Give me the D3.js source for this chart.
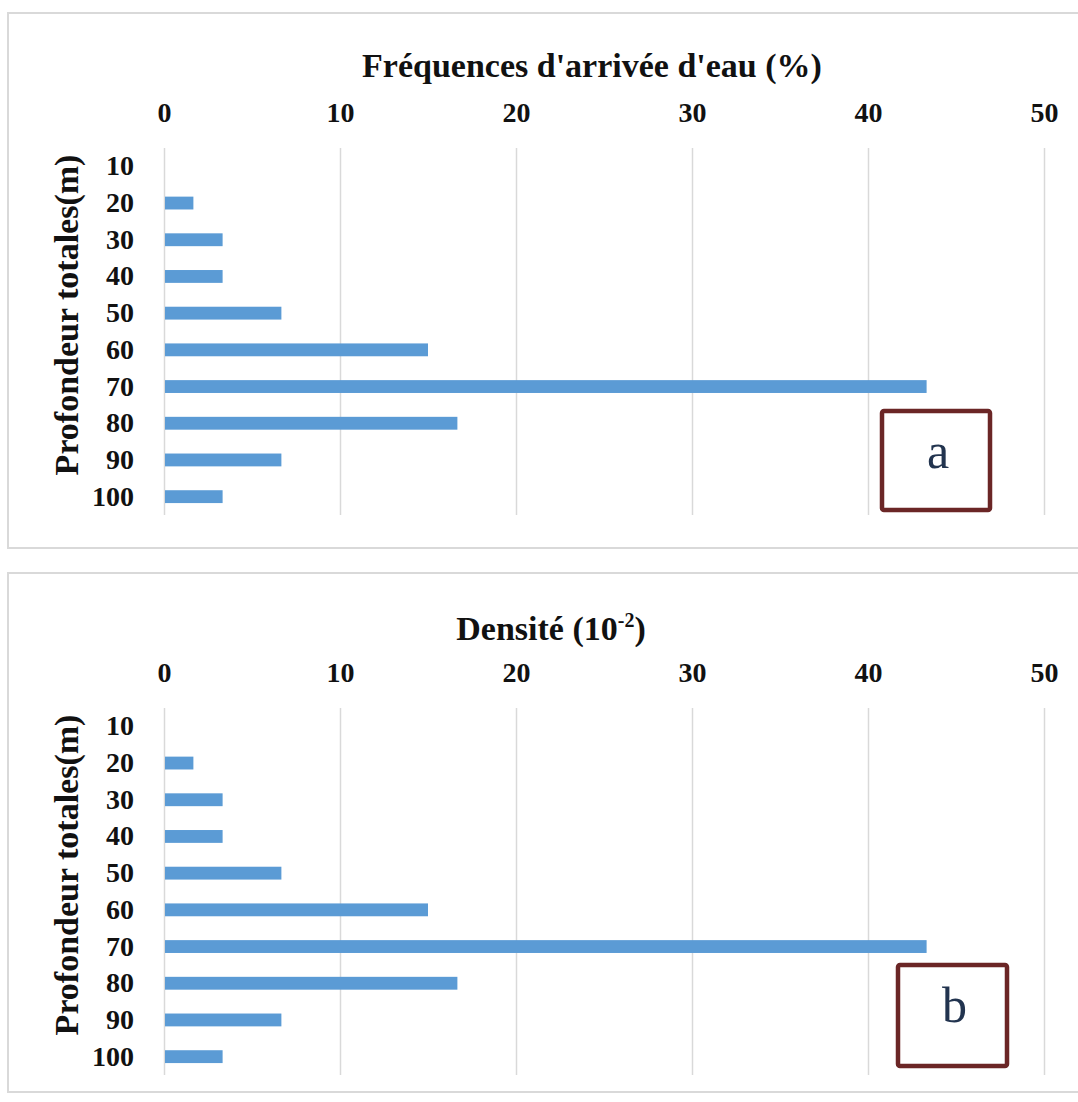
<!DOCTYPE html>
<html>
<head>
<meta charset="utf-8">
<script src="https://cdn.jsdelivr.net/npm/d3@7"></script>
<style>
  html, body { margin: 0; padding: 0; background: #ffffff; }
  svg { display: block; }
  text { font-family: "Liberation Serif", "Times New Roman", serif; }
</style>
</head>
<body>
<svg id="chart" width="1078" height="1102"></svg>
<script>
// Depth classes (m) and the share of water inflows in each class
const depths = ["10", "20", "30", "40", "50", "60", "70", "80", "90", "100"];
const frequencyValues = [0, 1.67, 3.33, 3.33, 6.67, 15, 43.33, 16.67, 6.67, 3.33];
const densityValues = [0, 1.67, 3.33, 3.33, 6.67, 15, 43.33, 16.67, 6.67, 3.33];
const xTickValues = [0, 10, 20, 30, 40, 50];
const yAxisTitle = "Profondeur totales(m)";

const svg = d3.select("#chart");

const barColor = "#5b9bd5";
const gridColor = "#d9d9d9";
const boxColor = "#6b2626";
const letterColor = "#22344f";

const x = d3.scaleLinear().domain([0, 50]).range([164, 1044]);
const plotHeight = 367;

function drawPanel(cfg) {
  const g = svg.append("g");

  // panel frame
  g.append("rect")
    .attr("x", 8).attr("y", cfg.frameTop)
    .attr("width", 1090).attr("height", cfg.frameHeight)
    .attr("fill", "#ffffff")
    .attr("stroke", gridColor).attr("stroke-width", 2);

  const top = cfg.plotTop;
  const y = d3.scaleBand()
    .domain(depths)
    .range([top, top + plotHeight])
    .paddingInner(0.65)
    .paddingOuter(0.325);

  // value axis on top, with vertical gridlines
  const xAxis = d3.axisTop(x)
    .tickValues(xTickValues)
    .tickSize(-plotHeight)
    .tickPadding(26)
    .tickFormat(d3.format("d"));
  const xg = g.append("g")
    .attr("transform", `translate(0,${top})`)
    .call(xAxis);
  xg.select(".domain").remove();
  xg.selectAll(".tick line").attr("stroke", gridColor).attr("stroke-width", 1.5);
  xg.selectAll(".tick text")
    .attr("fill", "#111")
    .style("font-size", "28px")
    .style("font-weight", "bold");

  // depth axis on the left
  const yAxis = d3.axisLeft(y).tickSize(0).tickPadding(30);
  const yg = g.append("g")
    .attr("transform", `translate(${x(0)},0)`)
    .call(yAxis);
  yg.select(".domain").remove();
  yg.selectAll(".tick text")
    .attr("fill", "#111")
    .style("font-size", "28px")
    .style("font-weight", "bold");

  // bars
  g.append("g").selectAll("rect")
    .data(depths.map((d, i) => ({ depth: d, value: cfg.values[i] })))
    .join("rect")
    .attr("x", x(0) + 1)
    .attr("y", d => y(d.depth))
    .attr("width", d => Math.max(0, x(d.value) - x(0) - 1))
    .attr("height", y.bandwidth())
    .attr("fill", barColor);

  // chart title
  const title = g.append("text")
    .attr("x", cfg.titleX)
    .attr("y", cfg.titleY)
    .attr("text-anchor", "middle")
    .attr("fill", "#111")
    .style("font-size", "34px")
    .style("font-weight", "bold");
  cfg.title(title);

  // depth axis title
  g.append("text")
    .attr("transform", `translate(78,${top + 167}) rotate(-90)`)
    .attr("text-anchor", "middle")
    .attr("fill", "#111")
    .style("font-size", "34px")
    .style("font-weight", "bold")
    .text(yAxisTitle);

  // panel letter box
  g.append("rect")
    .attr("x", cfg.box[0]).attr("y", cfg.box[1])
    .attr("width", cfg.box[2]).attr("height", cfg.box[3])
    .attr("rx", 2)
    .attr("fill", "#ffffff")
    .attr("stroke", boxColor).attr("stroke-width", 4.5);
  g.append("text")
    .attr("x", cfg.box[0] + cfg.box[2] / 2 + 2)
    .attr("y", cfg.letterY)
    .attr("text-anchor", "middle")
    .attr("fill", letterColor)
    .style("font-size", "50px")
    .text(cfg.letter);
}

drawPanel({
  frameTop: 13, frameHeight: 535, plotTop: 148,
  values: frequencyValues,
  titleX: 592, titleY: 77,
  title: t => t.text("Fréquences d'arrivée d'eau (%)"),
  box: [882, 411, 108, 99],
  letterY: 468,
  letter: "a"
});

drawPanel({
  frameTop: 573, frameHeight: 519, plotTop: 708,
  values: densityValues,
  titleX: 551, titleY: 640,
  title: t => {
    t.append("tspan").text("Densité (10");
    t.append("tspan").attr("dy", -13).style("font-size", "20px").text("-2");
    t.append("tspan").attr("dy", 13).text(")");
  },
  box: [898, 965, 109, 101],
  letterY: 1022,
  letter: "b"
});
</script>
</body>
</html>
